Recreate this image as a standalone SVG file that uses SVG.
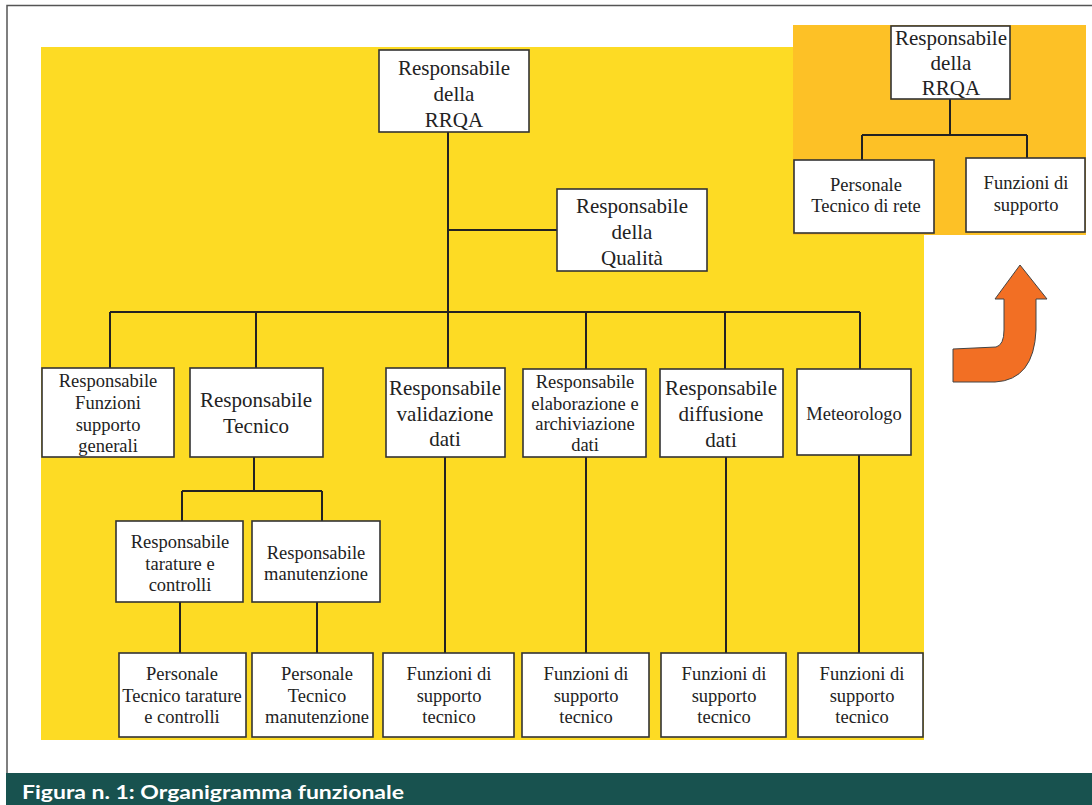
<svg xmlns="http://www.w3.org/2000/svg" width="1092" height="805" viewBox="0 0 1092 805">
  <style>
    .box { fill: #ffffff; stroke: #333333; stroke-width: 1.6; }
    .lbl { font-family: "Liberation Serif", "Times New Roman", serif; fill: #222222; text-anchor: middle; }
    .big { font-size: 21px; }
    .small { font-size: 18.5px; }
    .wire { stroke: #222222; stroke-width: 2; fill: none; }
    .caption { font-family: Lato, "Open Sans", "Liberation Sans", sans-serif; font-weight: bold; font-size: 18px; fill: #ffffff; }
  </style>

  <!-- page -->
  <rect x="0" y="0" width="1092" height="805" fill="#ffffff"/>
  <path d="M7,773 L7,5.5 L1092,5.5" fill="none" stroke="#555555" stroke-width="1.5"/>

  <!-- backgrounds -->
  <rect x="41" y="47" width="883" height="693" fill="#FDDB24"/>
  <rect x="793" y="25" width="293" height="210" fill="#FDC126"/>

  <!-- connectors -->
  <g id="connectors" class="wire">
    <path d="M448,132 V312"/>
    <path d="M448,230 H557"/>
    <path d="M110,312 H860"/>
    <path d="M110,312 V368"/>
    <path d="M256,312 V368"/>
    <path d="M448,312 V368"/>
    <path d="M586,312 V369"/>
    <path d="M725,312 V369"/>
    <path d="M860,312 V369"/>
    <path d="M254,457 V491"/>
    <path d="M182,491 H322"/>
    <path d="M182,491 V521"/>
    <path d="M322,491 V521"/>
    <path d="M180,602 V653"/>
    <path d="M317,602 V653"/>
    <path d="M445,457 V653"/>
    <path d="M586,457 V653"/>
    <path d="M726,457 V653"/>
    <path d="M859,455 V653"/>
    <path d="M950,99 V135"/>
    <path d="M862,135 H1027"/>
    <path d="M862,135 V160"/>
    <path d="M1027,135 V158"/>
  </g>

  <!-- main chart -->
  <g id="n-rrqa">
    <rect class="box" x="379" y="50" width="150" height="82"/>
    <text class="lbl big" x="454" y="75">Responsabile</text>
    <text class="lbl big" x="454" y="101">della</text>
    <text class="lbl big" x="454" y="127">RRQA</text>
  </g>
  <g id="n-qualita">
    <rect class="box" x="557" y="189" width="150" height="82"/>
    <text class="lbl big" x="632" y="213">Responsabile</text>
    <text class="lbl big" x="632" y="239">della</text>
    <text class="lbl big" x="632" y="265">Qualità</text>
  </g>

  <g id="n-supporto-generali">
    <rect class="box" x="42" y="368" width="132" height="89"/>
    <text class="lbl small" x="108" y="387">Responsabile</text>
    <text class="lbl small" x="108" y="409">Funzioni</text>
    <text class="lbl small" x="108" y="431">supporto</text>
    <text class="lbl small" x="108" y="452">generali</text>
  </g>
  <g id="n-tecnico">
    <rect class="box" x="190" y="368" width="133" height="89"/>
    <text class="lbl big" x="256" y="407">Responsabile</text>
    <text class="lbl big" x="256" y="433">Tecnico</text>
  </g>
  <g id="n-validazione">
    <rect class="box" x="386" y="368" width="119" height="89"/>
    <text class="lbl big" x="445" y="395">Responsabile</text>
    <text class="lbl big" x="445" y="421">validazione</text>
    <text class="lbl big" x="445" y="446">dati</text>
  </g>
  <g id="n-elaborazione">
    <rect class="box" x="523" y="369" width="123" height="88"/>
    <text class="lbl small" x="585" y="388">Responsabile</text>
    <text class="lbl small" x="585" y="410">elaborazione e</text>
    <text class="lbl small" x="585" y="430">archiviazione</text>
    <text class="lbl small" x="585" y="451">dati</text>
  </g>
  <g id="n-diffusione">
    <rect class="box" x="660" y="369" width="123" height="88"/>
    <text class="lbl big" x="721" y="395">Responsabile</text>
    <text class="lbl big" x="721" y="421">diffusione</text>
    <text class="lbl big" x="721" y="447">dati</text>
  </g>
  <g id="n-meteorologo">
    <rect class="box" x="797" y="369" width="114" height="86"/>
    <text class="lbl small" x="854" y="420">Meteorologo</text>
  </g>

  <g id="n-tarature">
    <rect class="box" x="116" y="521" width="127" height="81"/>
    <text class="lbl small" x="180" y="548">Responsabile</text>
    <text class="lbl small" x="180" y="570">tarature e</text>
    <text class="lbl small" x="180" y="591">controlli</text>
  </g>
  <g id="n-manutenzione">
    <rect class="box" x="252" y="521" width="128" height="81"/>
    <text class="lbl small" x="316" y="559">Responsabile</text>
    <text class="lbl small" x="316" y="580">manutenzione</text>
  </g>

  <g id="n-pers-tarature">
    <rect class="box" x="119" y="653" width="127" height="84"/>
    <text class="lbl small" x="182" y="680">Personale</text>
    <text class="lbl small" x="182" y="702">Tecnico tarature</text>
    <text class="lbl small" x="182" y="723">e controlli</text>
  </g>
  <g id="n-pers-manutenzione">
    <rect class="box" x="252" y="653" width="121" height="84"/>
    <text class="lbl small" x="317" y="680">Personale</text>
    <text class="lbl small" x="317" y="702">Tecnico</text>
    <text class="lbl small" x="317" y="723">manutenzione</text>
  </g>
  <g id="n-fst-1">
    <rect class="box" x="383" y="653" width="131" height="84"/>
    <text class="lbl small" x="449" y="680">Funzioni di</text>
    <text class="lbl small" x="449" y="702">supporto</text>
    <text class="lbl small" x="449" y="723">tecnico</text>
  </g>
  <g id="n-fst-2">
    <rect class="box" x="522" y="653" width="127" height="84"/>
    <text class="lbl small" x="586" y="680">Funzioni di</text>
    <text class="lbl small" x="586" y="702">supporto</text>
    <text class="lbl small" x="586" y="723">tecnico</text>
  </g>
  <g id="n-fst-3">
    <rect class="box" x="661" y="653" width="125" height="84"/>
    <text class="lbl small" x="724" y="680">Funzioni di</text>
    <text class="lbl small" x="724" y="702">supporto</text>
    <text class="lbl small" x="724" y="723">tecnico</text>
  </g>
  <g id="n-fst-4">
    <rect class="box" x="798" y="653" width="125" height="84"/>
    <text class="lbl small" x="862" y="680">Funzioni di</text>
    <text class="lbl small" x="862" y="702">supporto</text>
    <text class="lbl small" x="862" y="723">tecnico</text>
  </g>

  <!-- reduced chart -->
  <g id="r-rrqa">
    <rect class="box" x="891" y="26" width="119" height="73"/>
    <text class="lbl big" x="951" y="45">Responsabile</text>
    <text class="lbl big" x="951" y="70">della</text>
    <text class="lbl big" x="951" y="95">RRQA</text>
  </g>
  <g id="r-personale">
    <rect class="box" x="794" y="160" width="140" height="73"/>
    <text class="lbl small" x="866" y="191">Personale</text>
    <text class="lbl small" x="866" y="212">Tecnico di rete</text>
  </g>
  <g id="r-funzioni">
    <rect class="box" x="966" y="158" width="119" height="74"/>
    <text class="lbl small" x="1026" y="189">Funzioni di</text>
    <text class="lbl small" x="1026" y="211">supporto</text>
  </g>

  <!-- curved arrow -->
  <path d="M953,349 L996,347 Q1004,345 1004,330 L1004,299 L995,299 L1020,265 L1047,299 L1036,299 L1036,330 Q1034,380 995,382 L953,382 Z" fill="#F26F24" stroke="#444444" stroke-width="1"/>

  <!-- caption band -->
  <rect x="6" y="773" width="1086" height="32" fill="#18524F"/>
  <text class="caption" x="22" y="799" textLength="382" lengthAdjust="spacingAndGlyphs">Figura n. 1: Organigramma funzionale</text>
</svg>
